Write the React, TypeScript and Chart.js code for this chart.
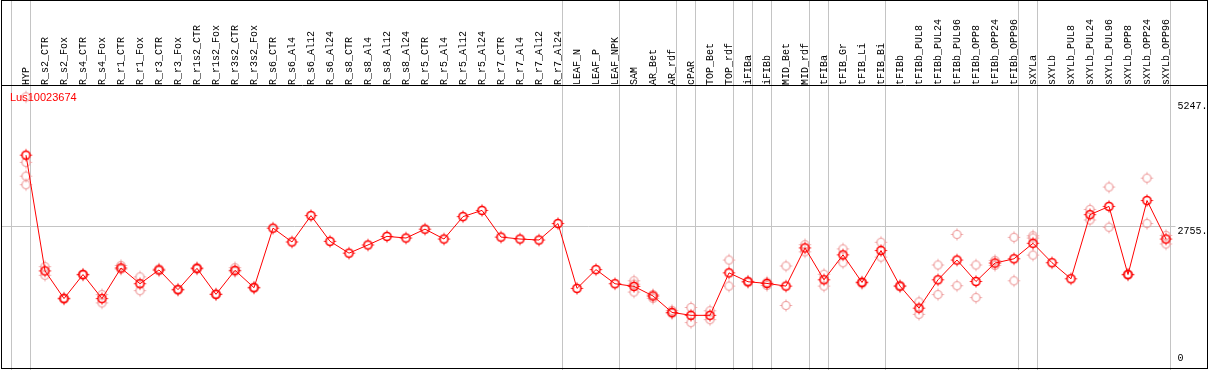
import React, { useEffect, useRef } from 'react';
import { Chart, registerables } from 'chart.js';

Chart.register(...registerables);

const N = null;

const categories = [
  'HYP', 'R_s2_CTR', 'R_s2_Fox', 'R_s4_CTR', 'R_s4_Fox', 'R_r1_CTR', 'R_r1_Fox', 'R_r3_CTR', 'R_r3_Fox',
  'R_r1s2_CTR', 'R_r1s2_Fox', 'R_r3s2_CTR', 'R_r3s2_Fox', 'R_s6_CTR', 'R_s6_Al4', 'R_s6_Al12', 'R_s6_Al24',
  'R_s8_CTR', 'R_s8_Al4', 'R_s8_Al12', 'R_s8_Al24', 'R_r5_CTR', 'R_r5_Al4', 'R_r5_Al12', 'R_r5_Al24',
  'R_r7_CTR', 'R_r7_Al4', 'R_r7_Al12', 'R_r7_Al24', 'LEAF_N', 'LEAF_P', 'LEAF_NPK', 'SAM', 'AR_Bet', 'AR_rdf',
  'cPAR', 'TOP_Bet', 'TOP_rdf', 'iFIBa', 'iFIBb', 'MID_Bet', 'MID_rdf', 'tFIBa', 'tFIB_Gr', 'tFIB_Li', 'tFIB_Bi',
  'tFIBb', 'tFIBb_PUL8', 'tFIBb_PUL24', 'tFIBb_PUL96', 'tFIBb_OPP8', 'tFIBb_OPP24', 'tFIBb_OPP96',
  'sXYLa', 'sXYLb', 'sXYLb_PUL8', 'sXYLb_PUL24', 'sXYLb_PUL96', 'sXYLb_OPP8', 'sXYLb_OPP24', 'sXYLb_OPP96',
];

// mean expression (main red line)
const expression = [
  4185, 1865, 1311, 1792, 1311, 1924, 1608, 1885, 1489, 1917, 1396, 1877, 1529,
  2722, 2445, 2973, 2458, 2221, 2385, 2557, 2524, 2702, 2504, 2953, 3078, 2543, 2504, 2484, 2814,
  1515, 1891, 1608, 1555, 1363, 1034, 975, 975, 1826, 1648, 1614, 1561, 2326,
  1687, 2187, 1634, 2273, 1561, 1119, 1687, 2083, 1653, 2023, 2108,
  2419, 2029, 1707, 2992, 3157, 1792, 3275, 2504,
];

// replicate samples (pink circles)
const rep1 = [
  4041, 1950, 1300, 1800, 1390, 1976, 1746, 1905, 1500, 1935, 1405, 1930, 1540,
  N, N, N, N, N, N, N, N, N, N, N, N, N, N, N, N, N, N, N,
  1667, 1317, 1074, 1133, 1066, 2083, 1660, 1574, 1964, 2391, 1798, 2306, 1610, 2439, 1575,
  1244, 1984, 2597, 1984, 2075, 2538, 2569, N, N, 3097, 3546, 1800, 3724, 2577,
];
const rep2 = [
  3764, 1778, 1325, 1780, 1224, 1900, 1470, 1870, 1480, 1900, 1390, 1850, 1520,
  N, N, N, N, N, N, N, N, N, N, N, N, N, N, N, N, N, N, N,
  1442, 1390, 1010, 829, 888, 1561, 1640, 1640, 1173, 2247, 1561, 2029, 1650, 2142, 1550,
  995, 1390, 1568, 1331, 1976, 1667, 2182, N, N, 2886, 2741, 1780, 2814, 2405,
];
const rep3 = [
  3592, N, N, N, N, N, N, N, N, N, N, N, N,
  N, N, N, N, N, N, N, N, N, N, N, N, N, N, N, N, N, N, N,
  1600, N, N, N, N, N, N, N, N, N, N, N, N, N, N,
  N, N, N, N, N, N, 2524, N, N, N, N, N, N, N,
];
const rep4 = [
  5352, N, N, N, N, N, N, N, N, N, N, N, N,
  N, N, N, N, N, N, N, N, N, N, N, N, N, N, N, N, N, N, N,
  N, N, N, N, N, N, N, N, N, N, N, N, N, N, N,
  N, N, N, N, N, N, N, N, N, N, N, N, N, N,
];

const yTickValues = [0, 2755, 5247];
const yTickLabels = ['0', '2755.', '5247.'];
const gridValues = [2755];
// group separators drawn after these category indices
const separatorsAfter = [-1, 0, 28, 31, 34, 35, 37, 38, 39, 41, 42, 45, 52, 53, 60];
const geneId = 'Lus10023674';

function makeMarker(color: string, lw: number) {
  const c = document.createElement('canvas');
  c.width = 15;
  c.height = 15;
  const ctx = c.getContext('2d')!;
  ctx.strokeStyle = color;
  ctx.lineWidth = lw;
  ctx.beginPath();
  ctx.arc(7.5, 7.5, 4, 0, Math.PI * 2);
  ctx.stroke();
  ctx.lineWidth = 1;
  ctx.beginPath();
  ctx.moveTo(7.5, 1.5); ctx.lineTo(7.5, 3);
  ctx.moveTo(7.5, 12); ctx.lineTo(7.5, 13.5);
  ctx.moveTo(1.5, 7.5); ctx.lineTo(3, 7.5);
  ctx.moveTo(12, 7.5); ctx.lineTo(13.5, 7.5);
  ctx.stroke();
  return c;
}

const decor = {
  id: 'decor',
  beforeDatasetsDraw(chart: any) {
    const { ctx, chartArea, scales } = chart;
    const x = scales.x;
    const y = scales.y;
    const step = x.getPixelForValue(1) - x.getPixelForValue(0);
    const x0 = x.getPixelForValue(0);
    ctx.save();
    ctx.strokeStyle = '#c4c4c4';
    ctx.lineWidth = 1;
    ctx.beginPath();
    separatorsAfter.forEach((i) => {
      const px = Math.floor(x0 + (i + 0.25) * step) + 0.5;
      ctx.moveTo(px, 0);
      ctx.lineTo(px, chart.height);
    });
    gridValues.forEach((v) => {
      const py = Math.floor(y.getPixelForValue(v)) + 0.5;
      ctx.moveTo(1, py);
      ctx.lineTo(chartArea.right, py);
    });
    ctx.stroke();
    ctx.restore();
  },
  afterDraw(chart: any) {
    const { ctx, chartArea, scales } = chart;
    const y = scales.y;
    ctx.save();
    ctx.strokeStyle = '#000';
    ctx.lineWidth = 1;
    ctx.strokeRect(1.5, 0.5, 1206, 368);
    ctx.beginPath();
    ctx.moveTo(1, 85.5);
    ctx.lineTo(1207, 85.5);
    ctx.stroke();

    ctx.fillStyle = '#000';
    ctx.font = '10px "Liberation Mono", "DejaVu Sans Mono", monospace';
    ctx.textAlign = 'left';
    ctx.textBaseline = 'middle';
    yTickValues.forEach((v, i) => {
      const py = Math.min(y.getPixelForValue(v) + 4.5, chartArea.bottom - 6);
      ctx.fillText(yTickLabels[i], chartArea.right + 2, py);
    });

    ctx.fillStyle = '#ff0000';
    ctx.font = '11px "Liberation Sans", Arial, sans-serif';
    ctx.fillText(geneId, 10, 97.5);
    ctx.restore();
  },
};

export default function App() {
  const ref = useRef<HTMLCanvasElement | null>(null);
  useEffect(() => {
    if (!ref.current) return;
    const mainMarker = makeMarker('#ff0000', 1.6);
    const repMarker = makeMarker('#ee9c9c', 1.2);
    const repDs = (data: (number | null)[]) => ({
      data,
      showLine: false,
      pointStyle: repMarker,
      pointRadius: 5,
      borderColor: '#ee9c9c',
      backgroundColor: 'transparent',
    });
    const chart = new Chart(ref.current, {
      type: 'line',
      data: {
        labels: categories,
        datasets: [
          {
            data: expression,
            borderColor: '#ff0000',
            borderWidth: 1,
            pointStyle: mainMarker,
            pointRadius: 5,
            backgroundColor: 'transparent',
            tension: 0,
          } as any,
          repDs(rep1) as any,
          repDs(rep2) as any,
          repDs(rep3) as any,
          repDs(rep4) as any,
        ],
      },
      options: {
        animation: false,
        responsive: false,
        devicePixelRatio: 1,
        events: [],
        layout: { padding: { left: 16.5, right: 33.5, top: 0, bottom: 2.4 } },
        plugins: { legend: { display: false }, tooltip: { enabled: false }, title: { display: false } },
        scales: {
          x: {
            type: 'category',
            position: 'top',
            offset: true,
            grid: { display: false, drawTicks: false },
            border: { display: false },
            ticks: {
              autoSkip: false,
              maxRotation: 90,
              minRotation: 90,
              padding: 1,
              labelOffset: 12,
              color: '#000',
              font: { family: '"Liberation Mono", "DejaVu Sans Mono", monospace', size: 10 },
            },
            afterFit: (s: any) => {
              s.height = 86;
            },
          },
          y: {
            display: false,
            min: 0,
            max: 5570,
          },
        },
      },
      plugins: [decor],
    });
    return () => chart.destroy();
  }, []);
  return (
    <div style={{ position: 'absolute', left: 0, top: 0, width: 1209, height: 370, background: '#fff' }}>
      <canvas ref={ref} width={1209} height={370} />
    </div>
  );
}
